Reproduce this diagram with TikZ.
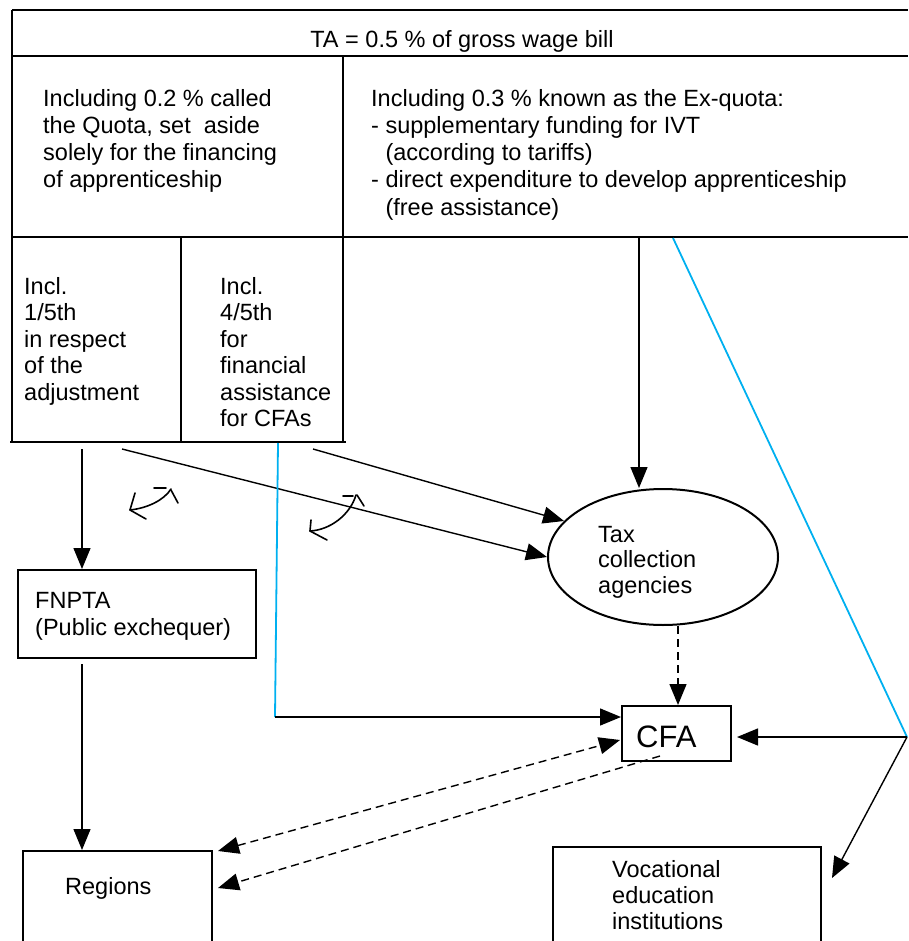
\documentclass[tikz,border=0pt]{standalone}
\usepackage{fontspec}
\setmainfont{Liberation Sans}
\usetikzlibrary{arrows.meta,shapes.geometric}
\definecolor{cyanline}{RGB}{0,176,240}
\newcommand\mlines[5]{\foreach \t [count=\i] in {#5} {\node[txt, anchor=base west] (#1-\i) at ({#2},{#3+(\i-1)*#4}) {\t};}}
\begin{document}
\begin{tikzpicture}[x=1pt,y=-1pt,
  txt/.style={font=\fontsize{23.5}{27}\selectfont, inner sep=0pt},
  box/.style={draw, line width=2pt, inner sep=0pt, anchor=north west},
  tbl/.style={line width=2.5pt},
  arr/.style={line width=1.4pt, -{Triangle[length=21pt,width=17pt]}},
  darr/.style={arr, dash pattern=on 8pt off 5pt},
  darrb/.style={line width=1.4pt, dash pattern=on 8pt off 5pt, {Triangle[length=21pt,width=17pt]}-{Triangle[length=21pt,width=17pt]}},
  rot/.style={line width=1.6pt, line cap=round, line join=round},
  blue/.style={cyanline, line width=1.8pt}]
\useasboundingbox (0,0) rectangle (908,941);
% table
\draw[tbl] (12,10) -- (908,10);
\draw[tbl] (12,56) -- (908,56);
\draw[tbl] (12,237) -- (908,237);
\draw[tbl] (12,10) -- (12,442);
\draw[tbl] (343,56) -- (343,442);
\draw[tbl] (181,237) -- (181,442);
\draw[tbl] (10,442) -- (346,442);
\node[txt, anchor=base] (ta) at (462,48) {TA = 0.5 \% of gross wage bill};
\mlines{quota}{43}{107}{27}{{Including 0.2 \% called},{the Quota, set~~aside},{solely for the financing},{of apprenticeship}}
\mlines{exq}{371}{107}{27}{{Including 0.3 \% known as the Ex-quota:},{- supplementary funding for IVT},{\phantom{- }(according to tariffs)},{- direct expenditure to develop apprenticeship},{\phantom{- }(free assistance)}}
\mlines{adj}{24}{294}{26.5}{Incl.,1/5th,in respect,of the,adjustment}
\mlines{fin}{220}{294}{26.5}{Incl.,4/5th,for,financial,assistance,for CFAs}
% boxes
\node[box, minimum width=238, minimum height=88] (fn) at (17,569) {};
\mlines{fnt}{35}{608}{27}{FNPTA,(Public exchequer)}
\node[box, minimum width=189, minimum height=120] (reg) at (22,850) {};
\node[txt, anchor=base west] (regt) at (65,894) {Regions};
\node[box, minimum width=268, minimum height=130] (voc) at (552,846) {};
\mlines{voct}{612}{877}{26}{Vocational,education,institutions}
\node[box, minimum width=109, minimum height=55] (cfa) at (621,705) {};
\node[inner sep=0pt, anchor=base west, font=\fontsize{31}{36}\selectfont] (cfat) at (636,747) {CFA};
\node[draw, ellipse, line width=2pt, minimum width=230, minimum height=136, inner sep=0pt] (tca) at (663,557) {};
\mlines{tcat}{598}{542}{25.5}{Tax,collection,agencies}
% coordinates
\coordinate (s1) at (82,449);
\coordinate (s2) at (122,449);
\coordinate (s3) at (313,449);
\coordinate (s4) at (639,238);
\coordinate (b1) at (278,443);
\coordinate (b2) at (275,717);
\coordinate (bs) at (673,238);
\coordinate (J) at (907,737);
\coordinate (r1) at (218,851);
\coordinate (r2) at (218,888);
\coordinate (c1) at (620,740);
\coordinate (c2) at (660,756);
\coordinate (vt) at (832,878);
\coordinate (ce) at (737,737);
% connectors
\draw[arr] (s1) -- (s1 |- fn.north);
\draw[arr] (s1 |- fn.south) ++(0,5) -- (s1 |- reg.north);
\draw[arr] (s2) -- (tca.west);
\draw[arr] (s3) -- (tca.160);
\draw[arr] (s4) -- (s4 |- tca.north);
\draw[darr] ([xshift=15pt]tca.south) -- ([xshift=15pt]tca.south |- cfa.north);
\draw[blue] (b1) -- (b2);
\draw[arr] (b2) -- (b2 -| cfa.west);
\draw[blue] (bs) -- (J);
\draw[arr] (J) -- (ce);
\draw[arr] (J) -- (vt);
\draw[darrb] (r1) -- (c1);
\draw[darr] (c2) -- (r2);
% rotation marks
\draw[rot] (146,519) -- (130,510) -- (135,493);
\draw[rot] (130,510) .. controls (148,508) and (164,500) .. (171,489);
\draw[rot] (154,488) -- (166,488);
\draw[rot] (171,490) -- (178,503);
\draw[rot] (327,540) -- (310,531) -- (311,520);
\draw[rot] (310,531) .. controls (330,530) and (350,515) .. (356,495);
\draw[rot] (343,496) -- (353,496);
\draw[rot] (357,495) -- (364,506);
\end{tikzpicture}
\end{document}
